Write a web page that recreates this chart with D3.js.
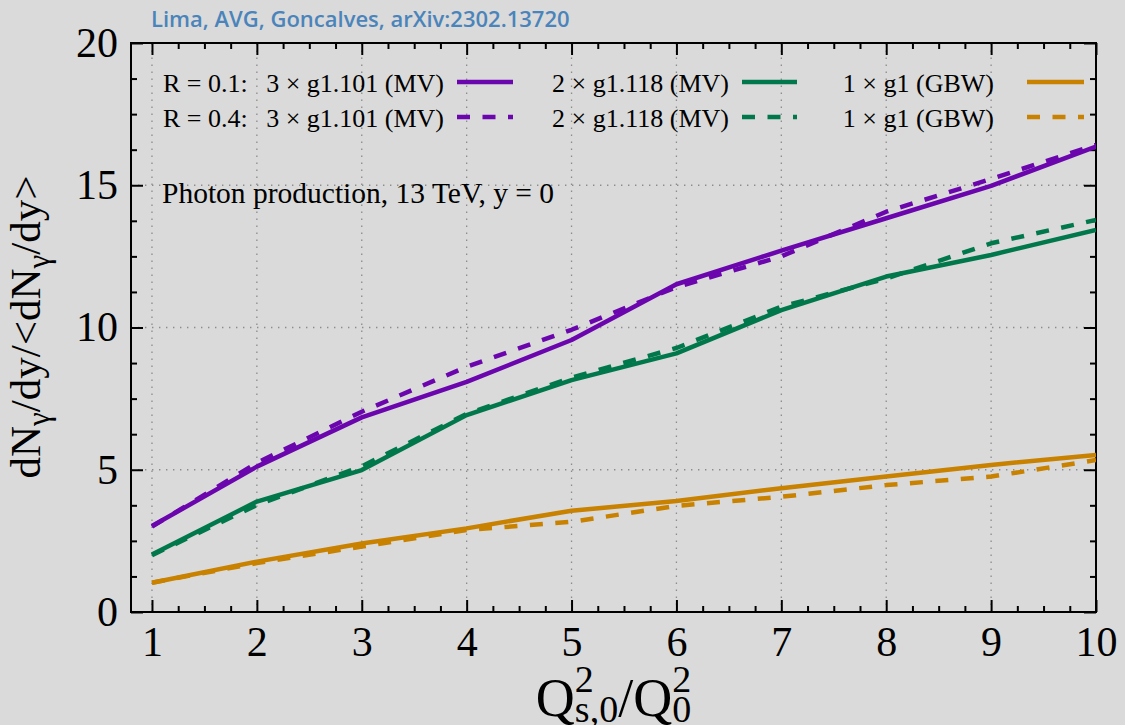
<!DOCTYPE html>
<html><head><meta charset="utf-8">
<script src="https://cdn.jsdelivr.net/npm/d3@7"></script>
<style>
body{margin:0;background:#dadada;}
svg{display:block;}
</style>
</head><body>
<svg id="c" width="1125" height="725"></svg>
<script>
// ---------- data ----------
const xValues = [1, 2, 3, 4, 5, 6, 7, 8, 9, 10];
const mvA_R01 = [3.02, 5.11, 6.84, 8.09, 9.56, 11.52, 12.70, 13.84, 14.98, 16.36];
const mvA_R04 = [3.00, 5.24, 7.04, 8.62, 9.92, 11.42, 12.50, 14.07, 15.22, 16.42];
const mvB_R01 = [2.02, 3.88, 4.99, 6.92, 8.15, 9.09, 10.61, 11.79, 12.55, 13.43];
const mvB_R04 = [2.00, 3.76, 5.12, 6.96, 8.24, 9.28, 10.73, 11.72, 12.96, 13.78];
const gbw_R01 = [1.03, 1.77, 2.41, 2.94, 3.56, 3.90, 4.35, 4.76, 5.17, 5.52];
const gbw_R04 = [1.03, 1.72, 2.30, 2.88, 3.17, 3.73, 4.05, 4.46, 4.76, 5.34];
const xMajorTicks = [1, 2, 3, 4, 5, 6, 7, 8, 9, 10];
const yMajorTicks = [0, 5, 10, 15, 20];
const seriesLabels = ["3 × g1.101 (MV)", "2 × g1.118 (MV)", "1 × g1 (GBW)"];
const rowLabels = ["R = 0.1:", "R = 0.4:"];
const titleText = "Lima, AVG, Goncalves, arXiv:2302.13720";
const noteText = "Photon production, 13 TeV, y = 0";

// ---------- layout ----------
const serif = "'Liberation Serif','Times New Roman',serif";
const colors = ["#6b05ad", "#00784c", "#c98100"];
const dash = "13,12.5";
const L = 131, R = 1096, T = 43, B = 612;
const svg = d3.select("#c");
svg.append("rect").attr("width", 1125).attr("height", 725).attr("fill", "#dadada");

const x = d3.scaleLinear().domain([0.8, 10]).range([L, R]);
const y = d3.scaleLinear().domain([0, 20]).range([B, T]);

// grid
const grid = svg.append("g").attr("stroke", "#8c8c8c").attr("stroke-width", 1.3)
  .attr("stroke-dasharray", "1.4,5.6");
grid.selectAll("line.gx").data(xMajorTicks).join("line")
  .attr("x1", d => x(d)).attr("x2", d => x(d)).attr("y1", B).attr("y2", T);
grid.selectAll("line.gy").data(yMajorTicks.filter(d => d > 0 && d < 20)).join("line")
  .attr("y1", d => y(d)).attr("y2", d => y(d)).attr("x1", L).attr("x2", R);

// axes (ticks inward on all four sides)
const xMinor = d3.range(1, 10.001, 0.25).filter(v => Math.abs(v - Math.round(v)) > 1e-6);
const yMinor = d3.range(0, 20.001, 1.25).filter(v => Math.abs(v / 5 - Math.round(v / 5)) > 1e-6);

function styleAxis(g) {
  g.select(".domain").remove();
  g.selectAll(".tick line").attr("stroke", "#000").attr("stroke-width", 2);
  g.selectAll(".tick text").attr("fill", "#000").style("font-family", serif).style("font-size", "42px");
}
svg.append("g").attr("transform", `translate(0,${B})`)
  .call(d3.axisBottom(x).tickValues(xMajorTicks).tickSize(-12).tickSizeOuter(0).tickPadding(14).tickFormat(d3.format("d")))
  .call(styleAxis);
svg.append("g").attr("transform", `translate(0,${B})`)
  .call(d3.axisBottom(x).tickValues(xMinor).tickSize(-6).tickSizeOuter(0).tickFormat(""))
  .call(styleAxis);
svg.append("g").attr("transform", `translate(0,${T})`)
  .call(d3.axisTop(x).tickValues(xMajorTicks).tickSize(-12).tickSizeOuter(0).tickFormat(""))
  .call(styleAxis);
svg.append("g").attr("transform", `translate(0,${T})`)
  .call(d3.axisTop(x).tickValues(xMinor).tickSize(-6).tickSizeOuter(0).tickFormat(""))
  .call(styleAxis);
svg.append("g").attr("transform", `translate(${L},0)`)
  .call(d3.axisLeft(y).tickValues(yMajorTicks).tickSize(-12).tickSizeOuter(0).tickPadding(13).tickFormat(d3.format("d")))
  .call(styleAxis);
svg.append("g").attr("transform", `translate(${L},0)`)
  .call(d3.axisLeft(y).tickValues(yMinor).tickSize(-6).tickSizeOuter(0).tickFormat(""))
  .call(styleAxis);
svg.append("g").attr("transform", `translate(${R},0)`)
  .call(d3.axisRight(y).tickValues(yMajorTicks).tickSize(-12).tickSizeOuter(0).tickFormat(""))
  .call(styleAxis);
svg.append("g").attr("transform", `translate(${R},0)`)
  .call(d3.axisRight(y).tickValues(yMinor).tickSize(-6).tickSizeOuter(0).tickFormat(""))
  .call(styleAxis);

// frame
svg.append("rect").attr("x", L).attr("y", T).attr("width", R - L).attr("height", B - T)
  .attr("fill", "none").attr("stroke", "#000").attr("stroke-width", 2);

// series
const series = [
  {vals: mvA_R01, c: 0, dashed: false}, {vals: mvA_R04, c: 0, dashed: true},
  {vals: mvB_R01, c: 1, dashed: false}, {vals: mvB_R04, c: 1, dashed: true},
  {vals: gbw_R01, c: 2, dashed: false}, {vals: gbw_R04, c: 2, dashed: true}
];
const line = d3.line().x((d, i) => x(xValues[i])).y(d => y(d));
svg.append("clipPath").attr("id", "pc").append("rect")
  .attr("x", L).attr("y", T).attr("width", R - L).attr("height", B - T);
const lines = svg.append("g").attr("clip-path", "url(#pc)");
series.forEach(s => {
  lines.append("path").attr("d", line(s.vals)).attr("fill", "none")
    .attr("stroke", colors[s.c]).attr("stroke-width", 4.5)
    .attr("stroke-linejoin", "round")
    .attr("stroke-dasharray", s.dashed ? dash : null);
});

// legend
const rowTextY = [92, 127], rowLineY = [82, 117];
const textEnds = [444, 729, 994], lineStarts = [457, 742, 1027], lineEnds = [513, 797, 1084];
rowLabels.forEach((lab, r) => {
  svg.append("text").attr("x", 163).attr("y", rowTextY[r])
    .style("font-family", serif).style("font-size", "26px").text(lab);
  seriesLabels.forEach((s, c) => {
    svg.append("text").attr("x", textEnds[c]).attr("y", rowTextY[r]).attr("text-anchor", "end")
      .style("font-family", serif).style("font-size", "26px").text(s);
    svg.append("line").attr("x1", lineStarts[c]).attr("x2", lineEnds[c])
      .attr("y1", rowLineY[r]).attr("y2", rowLineY[r])
      .attr("stroke", colors[c]).attr("stroke-width", 4.5)
      .attr("stroke-dasharray", r === 1 ? dash : null);
  });
});

// note
svg.append("text").attr("x", 162).attr("y", 203)
  .style("font-family", serif).style("font-size", "29.5px").text(noteText);

// title
svg.append("text").attr("x", 151).attr("y", 27)
  .style("font-family", "'Open Sans',sans-serif").style("font-weight", 600)
  .style("font-size", "22px").attr("fill", "#4a84bb").text(titleText);

// y label
const yl = svg.append("text").attr("transform", "translate(40,327) rotate(-90)")
  .attr("text-anchor", "middle").style("font-family", serif).style("font-size", "43px");
yl.append("tspan").text("dN");
yl.append("tspan").attr("dy", 9).style("font-size", "31px").text("γ");
yl.append("tspan").attr("dy", -9).text("/dy/<dN");
yl.append("tspan").attr("dy", 9).style("font-size", "31px").text("γ");
yl.append("tspan").attr("dy", -9).text("/dy>");

// x label
const xg = svg.append("g").style("font-family", serif);
let cx = 0;
function piece(str, size, by) {
  const t = xg.append("text").attr("x", cx).attr("y", by).style("font-size", size + "px").text(str);
  return t.node().getComputedTextLength();
}
cx += piece("Q", 54, 716);
{ const a = piece("2", 38, 692), b = piece("s,0", 38, 722); cx += Math.max(a, b); }
cx += piece("/", 54, 716);
cx += piece("Q", 54, 716);
{ const a = piece("2", 38, 692), b = piece("0", 38, 722); cx += Math.max(a, b); }
xg.attr("transform", `translate(${(L + R) / 2 - cx / 2},0)`);
</script>
</body></html>
